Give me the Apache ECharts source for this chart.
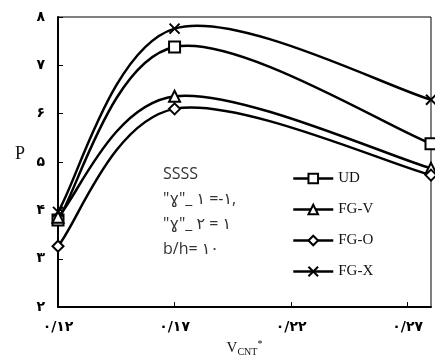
<!DOCTYPE html>
<html>
<head>
<meta charset="utf-8">
<script src="https://cdn.jsdelivr.net/npm/echarts@6/dist/echarts.min.js"></script>
<style>
html, body { margin: 0; padding: 0; background: #fff; }
#chart { width: 435px; height: 362px; }
</style>
</head>
<body>
<div id="chart"></div>
<script>
// داده‌ها
var xVals = [0.12, 0.17, 0.28];
var udVals = [3.80, 7.38, 5.38];
var fgvVals = [3.86, 6.36, 4.87];
var fgoVals = [3.26, 6.10, 4.73];
var fgxVals = [3.97, 7.76, 6.29];
var seriesNames = ['UD', 'FG-V', 'FG-O', 'FG-X'];
var notes = ['SSSS', '"ɣ"_ ۱ =-۱,', '"ɣ"_ ۲ = ۱', 'b/h= ۱۰'];

function fa(s) {
  return String(s).replace(/[0-9]/g, function (d) { return '۰۱۲۳۴۵۶۷۸۹'[d]; }).replace('.', '/');
}
function pairs(ys) {
  return xVals.map(function (x, i) { return [x, ys[i]]; });
}

var chart = echarts.init(document.getElementById('chart'));
var cross = 'path://M0,0L10,10M0,10L10,0';

// نقاط (فقط نشانگرها)
function mk(name, ys, symbol, size) {
  return {
    name: name,
    type: 'line',
    data: pairs(ys),
    symbol: symbol,
    symbolSize: size,
    showAllSymbol: true,
    lineStyle: { opacity: 0 },
    itemStyle: { color: '#fff', borderColor: '#000', borderWidth: 2 },
    z: 3
  };
}

// منحنی هموار (catmull-rom) از روی مختصات محور
function curve(name, ys) {
  return {
    name: name + '-curve',
    type: 'custom',
    data: pairs(ys),
    encode: { x: 0, y: 1 },
    silent: true,
    z: 2,
    renderItem: function (params, api) {
      if (params.dataIndex !== 0) return;
      var p = pairs(ys).map(function (d) { return api.coord(d); });
      var kids = [];
      for (var i = 0; i < p.length - 1; i++) {
        var p0 = p[i - 1] || p[i], p1 = p[i], p2 = p[i + 1], p3 = p[i + 2] || p[i + 1];
        kids.push({
          type: 'bezierCurve',
          shape: {
            x1: p1[0], y1: p1[1],
            cpx1: p1[0] + (p2[0] - p0[0]) / 6, cpy1: p1[1] + (p2[1] - p0[1]) / 6,
            cpx2: p2[0] - (p3[0] - p1[0]) / 6, cpy2: p2[1] - (p3[1] - p1[1]) / 6,
            x2: p2[0], y2: p2[1]
          },
          style: { stroke: '#000', lineWidth: 2.5, fill: null }
        });
      }
      return { type: 'group', children: kids };
    }
  };
}

var texts = notes.map(function (t, i) {
  return {
    type: 'text',
    left: 163,
    top: 166 + i * 25,
    style: { text: t, fontFamily: 'Open Sans, DejaVu Sans', fontSize: 16, fill: '#333' }
  };
});
texts.push({
  type: 'text',
  left: 15,
  top: 145,
  style: { text: 'P', fontFamily: 'Liberation Serif', fontSize: 18, fill: '#111' }
});

chart.setOption({
  animation: false,
  grid: { left: 58, right: 4, top: 17, bottom: 48, show: true, borderColor: '#000', borderWidth: 1 },
  legend: {
    orient: 'vertical',
    left: 287,
    top: 166,
    itemWidth: 40,
    itemHeight: 12,
    itemGap: 16,
    data: seriesNames,
    lineStyle: { color: '#000', width: 2.5, opacity: 1 },
    textStyle: { fontFamily: 'Liberation Serif', fontSize: 15, color: '#111' }
  },
  xAxis: {
    type: 'value',
    min: 0.12,
    max: 0.28,
    interval: 0.05,
    name: '{v|V}{s|CNT}{t|*}',
    nameLocation: 'middle',
    nameGap: 27,
    nameTextStyle: {
      rich: {
        v: { fontFamily: 'Liberation Serif', fontSize: 15, color: '#111' },
        s: { fontFamily: 'Liberation Serif', fontSize: 10, color: '#111', verticalAlign: 'top', padding: [8, 0, 0, 0] },
        t: { fontFamily: 'Liberation Serif', fontSize: 10, color: '#111', padding: [0, 0, 8, 0] }
      }
    },
    splitLine: { show: false },
    axisLine: { lineStyle: { color: '#000', width: 2 } },
    axisTick: { inside: true, length: 5, lineStyle: { color: '#000' } },
    axisLabel: {
      showMaxLabel: false,
      margin: 13,
      fontFamily: 'DejaVu Sans',
      fontWeight: 'bold',
      fontSize: 14,
      color: '#000',
      formatter: function (v) { return fa(v.toFixed(2)); }
    }
  },
  yAxis: {
    type: 'value',
    min: 2,
    max: 8,
    interval: 1,
    splitLine: { show: false },
    axisLine: { show: true, lineStyle: { color: '#000', width: 2 } },
    axisTick: { show: true, inside: true, length: 5, lineStyle: { color: '#000' } },
    axisLabel: {
      margin: 13,
      fontFamily: 'DejaVu Sans',
      fontWeight: 'bold',
      fontSize: 14,
      color: '#000',
      formatter: function (v) { return fa(v); }
    }
  },
  graphic: texts,
  series: [
    mk('UD', udVals, 'rect', 11),
    mk('FG-V', fgvVals, 'triangle', 11),
    mk('FG-O', fgoVals, 'diamond', 11),
    mk('FG-X', fgxVals, cross, 10),
    curve('UD', udVals),
    curve('FG-V', fgvVals),
    curve('FG-O', fgoVals),
    curve('FG-X', fgxVals)
  ]
});
</script>
</body>
</html>
